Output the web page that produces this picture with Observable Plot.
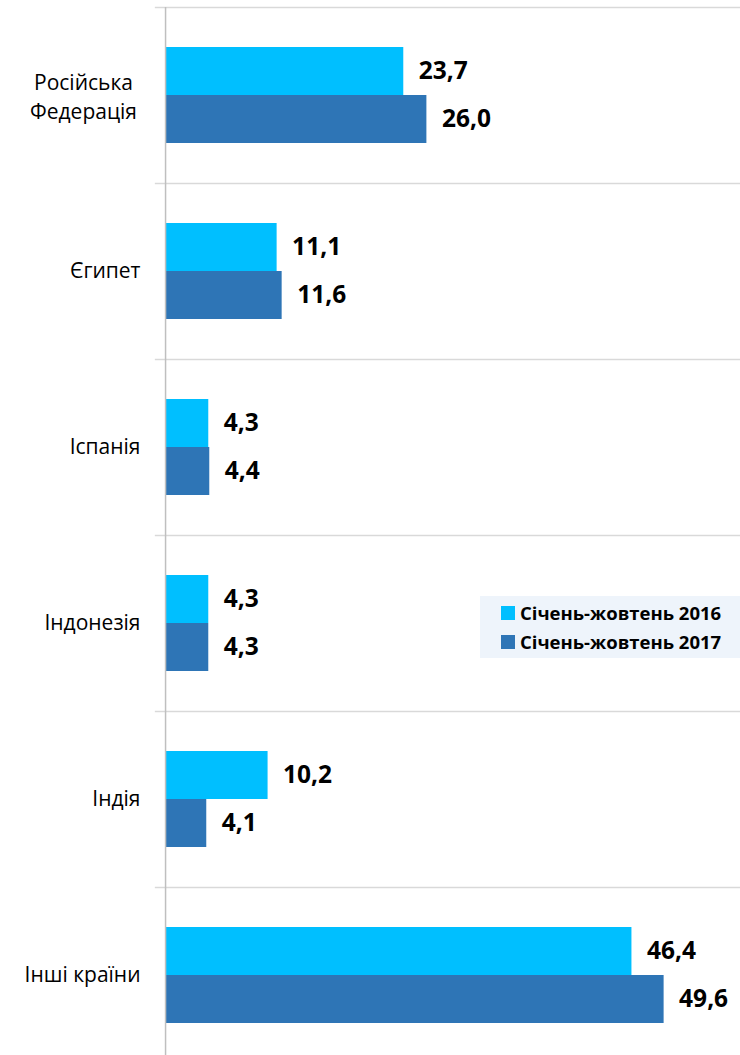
<!DOCTYPE html>
<html>
<head>
<meta charset="utf-8">
<script src="https://cdn.jsdelivr.net/npm/d3@7"></script>
<script src="https://cdn.jsdelivr.net/npm/@observablehq/plot@0.6"></script>
<style>
  html, body { margin: 0; padding: 0; background: #fff; }
  #wrap { position: relative; width: 740px; height: 1055px; overflow: hidden; }
  #legend {
    position: absolute; left: 480px; top: 596px; width: 260px; height: 62px;
    background: #eef4fb; font-family: "Open Sans", sans-serif; font-weight: 700;
    font-size: 18.5px; color: #000; box-sizing: border-box; padding: 2px 0 0 21px;
  }
  #legend .row { display: flex; align-items: center; height: 29px; }
  #legend .sw { width: 14px; height: 14px; margin-right: 5px; }
</style>
</head>
<body>
<div id="wrap">
  <div id="chart"></div>
  <div id="legend"></div>
</div>
<script>
const countries = ["Російська\nФедерація", "Єгипет", "Іспанія", "Індонезія", "Індія", "Інші країни"];
const series = ["Січень-жовтень 2016", "Січень-жовтень 2017"];
const values2016 = [23.7, 11.1, 4.3, 4.3, 10.2, 46.4];
const values2017 = [26.0, 11.6, 4.4, 4.3, 4.1, 49.6];
const colors = ["#00bfff", "#2e75b6"];

const data = [];
countries.forEach((c, i) => {
  data.push({country: c, series: series[0], value: values2016[i]});
  data.push({country: c, series: series[1], value: values2017[i]});
});

const fmt = v => v.toFixed(1).replace(".", ",");

const chart = Plot.plot({
  width: 740,
  height: 1055,
  marginLeft: 155,
  marginRight: 0,
  marginTop: 7,
  marginBottom: 0,
  style: {fontFamily: "'Open Sans', sans-serif", background: "#fff"},
  x: {domain: [-1, 57.2], axis: null},
  fy: {domain: countries, range: [7, 1063], padding: 0, label: null},
  y: {domain: series, paddingInner: 0, paddingOuter: 0.815, axis: null},
  color: {domain: series, range: colors},
  marks: [
    Plot.frame({anchor: "top", stroke: "#d9d9d9", strokeWidth: 1.3}),
    Plot.axisFy({anchor: "left", ticks: countries.slice(1), tickSize: 0, tickPadding: 15, fontSize: 21, fill: "#000", label: null}),
    Plot.axisFy({anchor: "left", ticks: countries.slice(0, 1), tickSize: 0, tickPadding: 72, textAnchor: "middle", lineHeight: 1.35, fontSize: 21, fill: "#000", label: null}),
    Plot.barX(data, {fy: "country", y: "series", x1: 0, x2: "value", fill: "series"}),
    Plot.text(data, {fy: "country", y: "series", x: "value", text: d => fmt(d.value), textAnchor: "start", dx: 15, fontSize: 24.5, fontWeight: "bold", fill: "#000"}),
    Plot.ruleX([0], {stroke: "#bfbfbf", strokeWidth: 1.5})
  ]
});
document.getElementById("chart").appendChild(chart);

const legend = document.getElementById("legend");
series.forEach((s, i) => {
  const row = document.createElement("div");
  row.className = "row";
  const sw = document.createElement("div");
  sw.className = "sw";
  sw.style.background = colors[i];
  const t = document.createElement("span");
  t.textContent = s;
  row.appendChild(sw);
  row.appendChild(t);
  legend.appendChild(row);
});
</script>
</body>
</html>
